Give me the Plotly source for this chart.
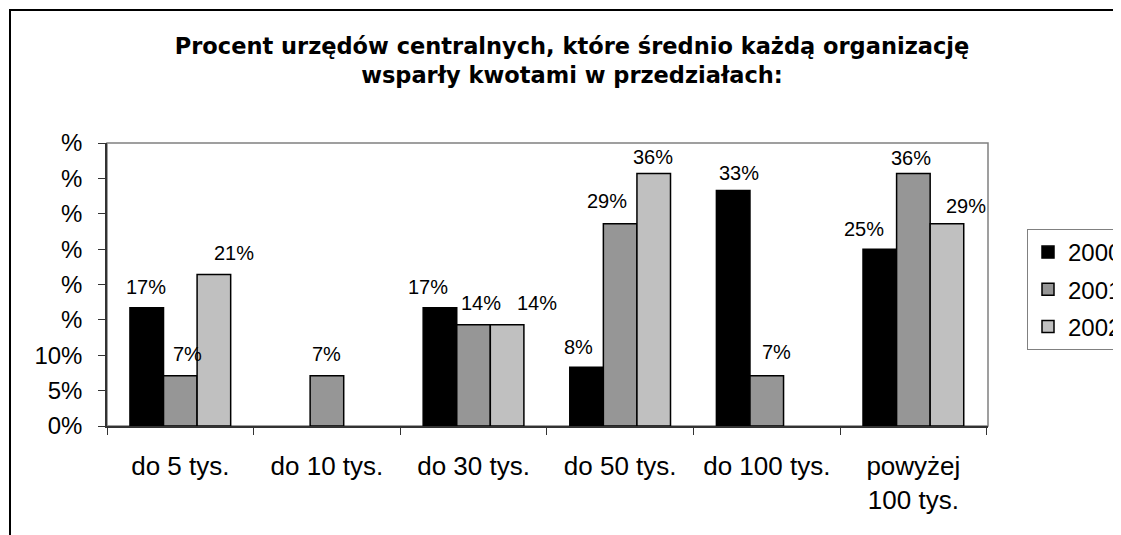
import plotly.graph_objects as go

categories = ["do 5 tys.", "do 10 tys.", "do 30 tys.", "do 50 tys.", "do 100 tys.", "powyżej<br>100 tys."]
years = ["2000", "2001", "2002"]
values_2000 = [16.7, 0, 16.7, 8.3, 33.3, 25.0]
values_2001 = [7.1, 7.1, 14.3, 28.6, 7.1, 35.7]
values_2002 = [21.4, 0, 14.3, 35.7, 0, 28.6]
colors = ["#000000", "#969696", "#c0c0c0"]
y_tickvals = [0, 5, 10, 15, 20, 25, 30, 35, 40]
y_ticktext = ["0%", "5%", "10%", "%", "%", "%", "%", "%", "%"]
title_text = "<b>Procent urzędów centralnych, które średnio każdą organizację<br>wsparły kwotami w przedziałach:</b>"

# label nudges (style only, px): horizontal shift from bar centre, height of label centre above bar top
label_dx = [[-1, 0, -12, -8, 6, -16], [7, 0, 7, -13, 10, -2], [20, 0, 30, -1, 0, 19]]
label_dy = [[21, 0, 21, 20, 17, 20], [22, 22, 22, 23, 24, 15], [22, 0, 22, 16, 0, 18]]

FONT = "Liberation Sans, Arial, sans-serif"
TITLE_FONT = "DejaVu Sans, Liberation Sans, sans-serif"
OFF = 8  # page body margin
W, H = 1121 - OFF, 535 - OFF
L, R, T, B = 107 - OFF, 988 - OFF, 143 - OFF, 426 - OFF
px_w = R - L
px_h = B - T
BARGAP = 0.313
n_series = 3
bar_px = px_w / len(categories) * (1 - BARGAP) / n_series

fig = go.Figure()
annotations = []
series = [values_2000, values_2001, values_2002]
for i, (name, vals) in enumerate(zip(years, series)):
    yv = [v if v > 0 else None for v in vals]
    fig.add_trace(go.Bar(
        x=categories, y=yv, name=name,
        marker=dict(color=colors[i], line=dict(color="#000000", width=1.5)),
        legendgroup=name,
    ))
    for j, v in enumerate(vals):
        if v > 0:
            annotations.append(dict(
                x=categories[j], y=v, xref="x", yref="y", text=f"{v:.0f}%",
                showarrow=False, xanchor="center", yanchor="middle",
                xshift=(i - 1) * bar_px + label_dx[i][j], yshift=label_dy[i][j],
                font=dict(family=FONT, size=20, color="#000000"),
            ))

fig.update_layout(
    width=W, height=H,
    margin=dict(l=L, r=W - R, t=T, b=H - B, autoexpand=False),
    paper_bgcolor="white", plot_bgcolor="white",
    barmode="group", bargap=BARGAP, bargroupgap=0,
    font=dict(family=FONT, size=24, color="#000000"),
    title=dict(text=title_text, x=(572 - OFF) / W, xanchor="center", xref="container",
               y=1 - 46 / H, yanchor="top", yref="container",
               font=dict(family=TITLE_FONT, size=22.5, color="#000000")),
    showlegend=True,
    legend=dict(x=(1027 - OFF - L) / px_w, xanchor="left", y=(B - (229 - OFF)) / px_h, yanchor="top",
                bordercolor="#808080", borderwidth=1, bgcolor="white",
                font=dict(family=FONT, size=24, color="#000000"),
                traceorder="grouped", tracegroupgap=3),
    xaxis=dict(type="category", showline=True, linecolor="#333333", linewidth=1.5,
               ticks="outside", ticklen=7, tickcolor="#333333", tickson="boundaries",
               ticklabelstandoff=16, showgrid=False, zeroline=False,
               tickfont=dict(family=FONT, size=26, color="#000000")),
    yaxis=dict(range=[0, 40], tickvals=y_tickvals, ticktext=y_ticktext,
               showline=True, linecolor="#333333", linewidth=1.5,
               ticks="outside", ticklen=7, tickcolor="#333333",
               ticklabelstandoff=11, showgrid=False, zeroline=False,
               tickfont=dict(family=FONT, size=24, color="#000000")),
    annotations=annotations,
    shapes=[
        dict(type="rect", xref="paper", yref="paper", x0=0, x1=1, y0=0, y1=1,
             line=dict(color="#808080", width=1.5), layer="below"),
        dict(type="rect", xref="paper", yref="paper",
             x0=(2 - L) / px_w, x1=(W + 50 - L) / px_w,
             y0=(B - (H + 50)) / px_h, y1=(B - 2) / px_h,
             line=dict(color="#000000", width=2), layer="below"),
    ],
)

fig.write_html("out.html")
